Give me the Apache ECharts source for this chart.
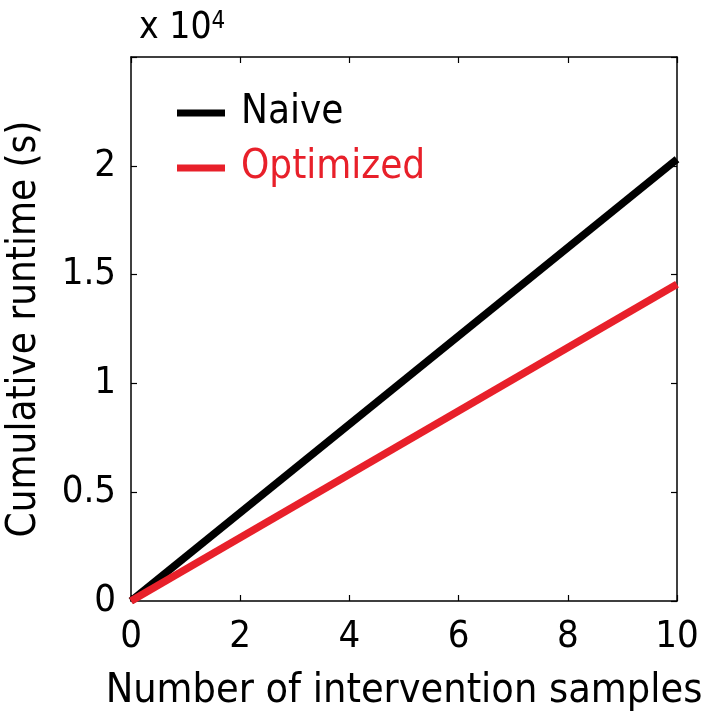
<!DOCTYPE html>
<html>
<head>
<meta charset="utf-8">
<script src="https://cdn.jsdelivr.net/npm/echarts@6/dist/echarts.min.js"></script>
<style>html,body{margin:0;padding:0;background:#fff;}#c{width:706px;height:720px;}</style>
</head>
<body>
<div id="c"></div>
<script>
const FONT = "'DejaVu Sans Condensed', 'DejaVu Sans', sans-serif";
const seriesNames = ['Naive', 'Optimized'];
const seriesColors = ['#000000', '#e8202a'];
const xSamples = [0, 10];
const naiveRuntime = [0, 20300];
const optimizedRuntime = [0, 14560];
const xTicks = [0, 2, 4, 6, 8, 10];
const yTickLabels = ['0', '0.5', '1', '1.5', '2'];
const xLabel = 'Number of intervention samples';
const yLabel = 'Cumulative runtime (s)';

const chart = echarts.init(document.getElementById('c'));
const grid = {left: 131, right: 29, top: 57, bottom: 119, containLabel: false, outerBoundsMode: 'none'};
const axisLine = {show: true, onZero: false, lineStyle: {color: '#000', width: 1.5}};
const tick = {show: true, inside: true, length: 6, lineStyle: {color: '#000', width: 1.2}};
const toPairs = (xs, ys) => xs.map((x, i) => [x, ys[i]]);

chart.setOption({
  backgroundColor: '#fff',
  animation: false,
  grid: grid,
  legend: {
    orient: 'vertical',
    left: 172, top: 87,
    itemWidth: 48, itemHeight: 7, itemGap: 13,
    icon: 'rect',
    textStyle: {fontFamily: FONT, fontSize: 40, lineHeight: 42, padding: [0, 0, 0, 11]},
    data: seriesNames.map((n, i) => ({name: n, textStyle: {color: seriesColors[i]}}))
  },
  xAxis: [{
    type: 'value', position: 'bottom', min: 0, max: 10, interval: 2,
    axisLine: axisLine, axisTick: tick, splitLine: {show: false},
    axisLabel: {fontFamily: FONT, fontSize: 38, color: '#000', margin: 17,
      formatter: v => xTicks.indexOf(v) >= 0 ? String(v) : ''},
    name: xLabel, nameLocation: 'middle', nameGap: 70,
    nameTextStyle: {fontFamily: FONT, fontSize: 41, color: '#000'}
  }, {
    type: 'value', position: 'top', min: 0, max: 10, interval: 2,
    axisLine: axisLine, axisTick: tick, splitLine: {show: false}, axisLabel: {show: false}
  }],
  yAxis: [{
    type: 'value', position: 'left', min: 0, max: 25000, interval: 5000,
    axisLine: axisLine, axisTick: tick, splitLine: {show: false},
    axisLabel: {fontFamily: FONT, fontSize: 38, color: '#000', margin: 15,
      formatter: v => { const i = Math.round(v / 5000); return i < yTickLabels.length ? yTickLabels[i] : ''; }},
    name: yLabel, nameLocation: 'middle', nameGap: 86,
    nameTextStyle: {fontFamily: FONT, fontSize: 40, color: '#000'}
  }, {
    type: 'value', position: 'right', min: 0, max: 25000, interval: 5000,
    axisLine: axisLine, axisTick: tick, splitLine: {show: false}, axisLabel: {show: false}
  }],
  graphic: [{
    type: 'text', left: 139, top: 10,
    style: {
      text: '{a|x 10}{b|4}',
      rich: {
        a: {fontFamily: FONT, fontSize: 37, fill: '#000', verticalAlign: 'bottom'},
        b: {fontFamily: FONT, fontSize: 24, fill: '#000', verticalAlign: 'top'}
      }
    }
  }],
  series: [{
    name: seriesNames[0], type: 'line', data: toPairs(xSamples, naiveRuntime),
    showSymbol: false, symbol: 'none', color: seriesColors[0],
    lineStyle: {color: seriesColors[0], width: 7.5}, z: 3
  }, {
    name: seriesNames[1], type: 'line', data: toPairs(xSamples, optimizedRuntime),
    showSymbol: false, symbol: 'none', color: seriesColors[1],
    lineStyle: {color: seriesColors[1], width: 7.5}, z: 4
  }]
});
</script>
</body>
</html>
